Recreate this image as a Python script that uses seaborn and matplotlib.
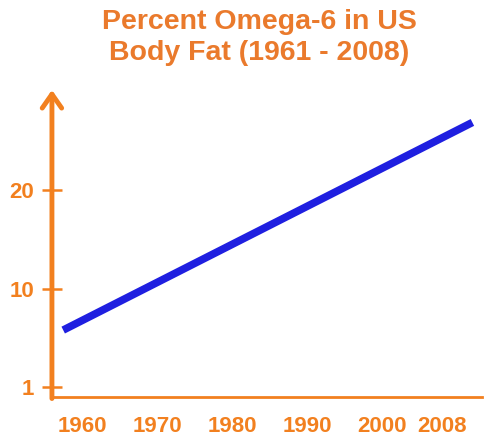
import pandas as pd
import matplotlib.pyplot as plt
import seaborn as sns

# data (cartoon chart, straight line)
years = [1957.5, 2012.0]
omega6_pct = [5.8, 26.9]

x_ticks = [1960, 1970, 1980, 1990, 2000, 2008]
x_labels = ["1960", "1970", "1980", "1990", "2000", "2008"]
y_ticks = [0, 10, 20]
y_labels = ["1", "10", "20"]

title = "Percent Omega-6 in US\nBody Fat (1961 - 2008)"

orange = "#F2801F"
title_orange = "#EA7A2C"
blue = "#1F1FE0"

sns.set_style("white")
plt.rcParams['font.family'] = ['Liberation Sans', 'DejaVu Sans']

df = pd.DataFrame({"year": years, "pct": omega6_pct})

fig = plt.figure(figsize=(4.9, 4.38), dpi=100)
ax = fig.add_axes([0.106, 0.0936, 0.878, 0.701])

sns.lineplot(data=df, x="year", y="pct", ax=ax, color=blue, linewidth=5.5,
             solid_capstyle="butt")

ax.set_xlim(1956, 2013.3)
ax.set_ylim(-1, 30.2)
ax.set_xlabel("")
ax.set_ylabel("")

ax.set_xticks(x_ticks)
ax.set_xticklabels(x_labels)
ax.set_yticks(y_ticks)
ax.set_yticklabels(y_labels)

ax.tick_params(axis="x", length=0, pad=14, labelsize=16, labelcolor=orange)
ax.tick_params(axis="y", left=True, direction="inout", length=14, width=1.8,
               color=orange, pad=6, labelsize=16, labelcolor=orange)
for lab in ax.get_xticklabels() + ax.get_yticklabels():
    lab.set_fontweight("bold")

for side in ["top", "right", "left"]:
    ax.spines[side].set_visible(False)
ax.spines["bottom"].set_color(orange)
ax.spines["bottom"].set_linewidth(2)

# y axis drawn as an arrow
ax.annotate("", xy=(0, 1.0), xycoords="axes fraction", xytext=(0, -0.005),
            textcoords="axes fraction",
            arrowprops=dict(arrowstyle="->,head_width=0.7,head_length=1.0",
                            color=orange, lw=3.5, shrinkA=0, shrinkB=0),
            annotation_clip=False)

fig.text(0.529, 0.914, title, ha="center", va="center", fontsize=20.5,
         fontweight="bold", color=title_orange, linespacing=1.22)

fig.savefig("out.png", dpi=100, facecolor="white")
